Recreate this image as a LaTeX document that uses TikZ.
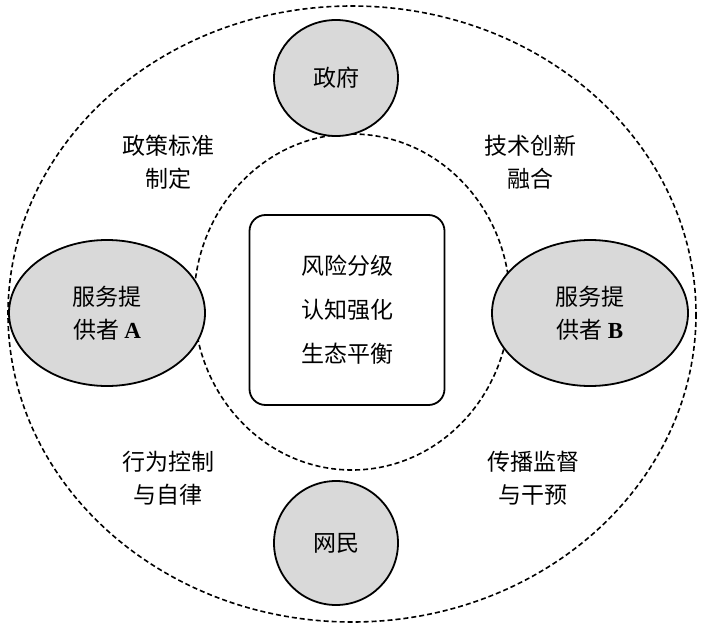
\documentclass[tikz,border=0pt]{standalone}
\usepackage{fontspec}
\newfontfamily\cjk{Noto Sans CJK SC}
\newfontfamily\lat{Liberation Serif}
\begin{document}
\begin{tikzpicture}[x=1pt,y=-1pt,
  actor/.style={draw,line width=1.8pt,fill=gray!30},
  lab/.style={font=\cjk\fontsize{23}{33}\selectfont,align=center},
  ring/.style={line width=1.6pt,dash pattern=on 5pt off 3pt}]
\useasboundingbox (0,0) rectangle (701,626);
\draw[ring] (352,314) ellipse [x radius=344, y radius=308];
\draw[ring] (352,302) ellipse [x radius=158, y radius=168];
\draw[actor] (336,78) ellipse [x radius=62, y radius=58];
\node[lab] (gov) at (336,78) {政府};
\draw[actor] (107,313) ellipse [x radius=98, y radius=73];
\node[lab] (a) at (107,313) {服务提\\供者 {\lat\bfseries A}};
\draw[actor] (590,313) ellipse [x radius=98, y radius=73];
\node[lab] (b) at (590,313) {服务提\\供者 {\lat\bfseries B}};
\draw[actor] (336,543) ellipse [x radius=62, y radius=62];
\node[lab] (net) at (336,543) {网民};
\node[draw,line width=1.8pt,fill=white,rounded corners=16pt,minimum width=195pt,minimum height=190pt,lab,font=\cjk\fontsize{23}{44}\selectfont] (c) at (347,310) {风险分级\\认知强化\\生态平衡};
\node[lab] (l1) at (168,162) {政策标准\\制定};
\node[lab] (l2) at (530,162) {技术创新\\融合};
\node[lab] (l3) at (168,478) {行为控制\\与自律};
\node[lab] (l4) at (533,478) {传播监督\\与干预};
\end{tikzpicture}
\end{document}
